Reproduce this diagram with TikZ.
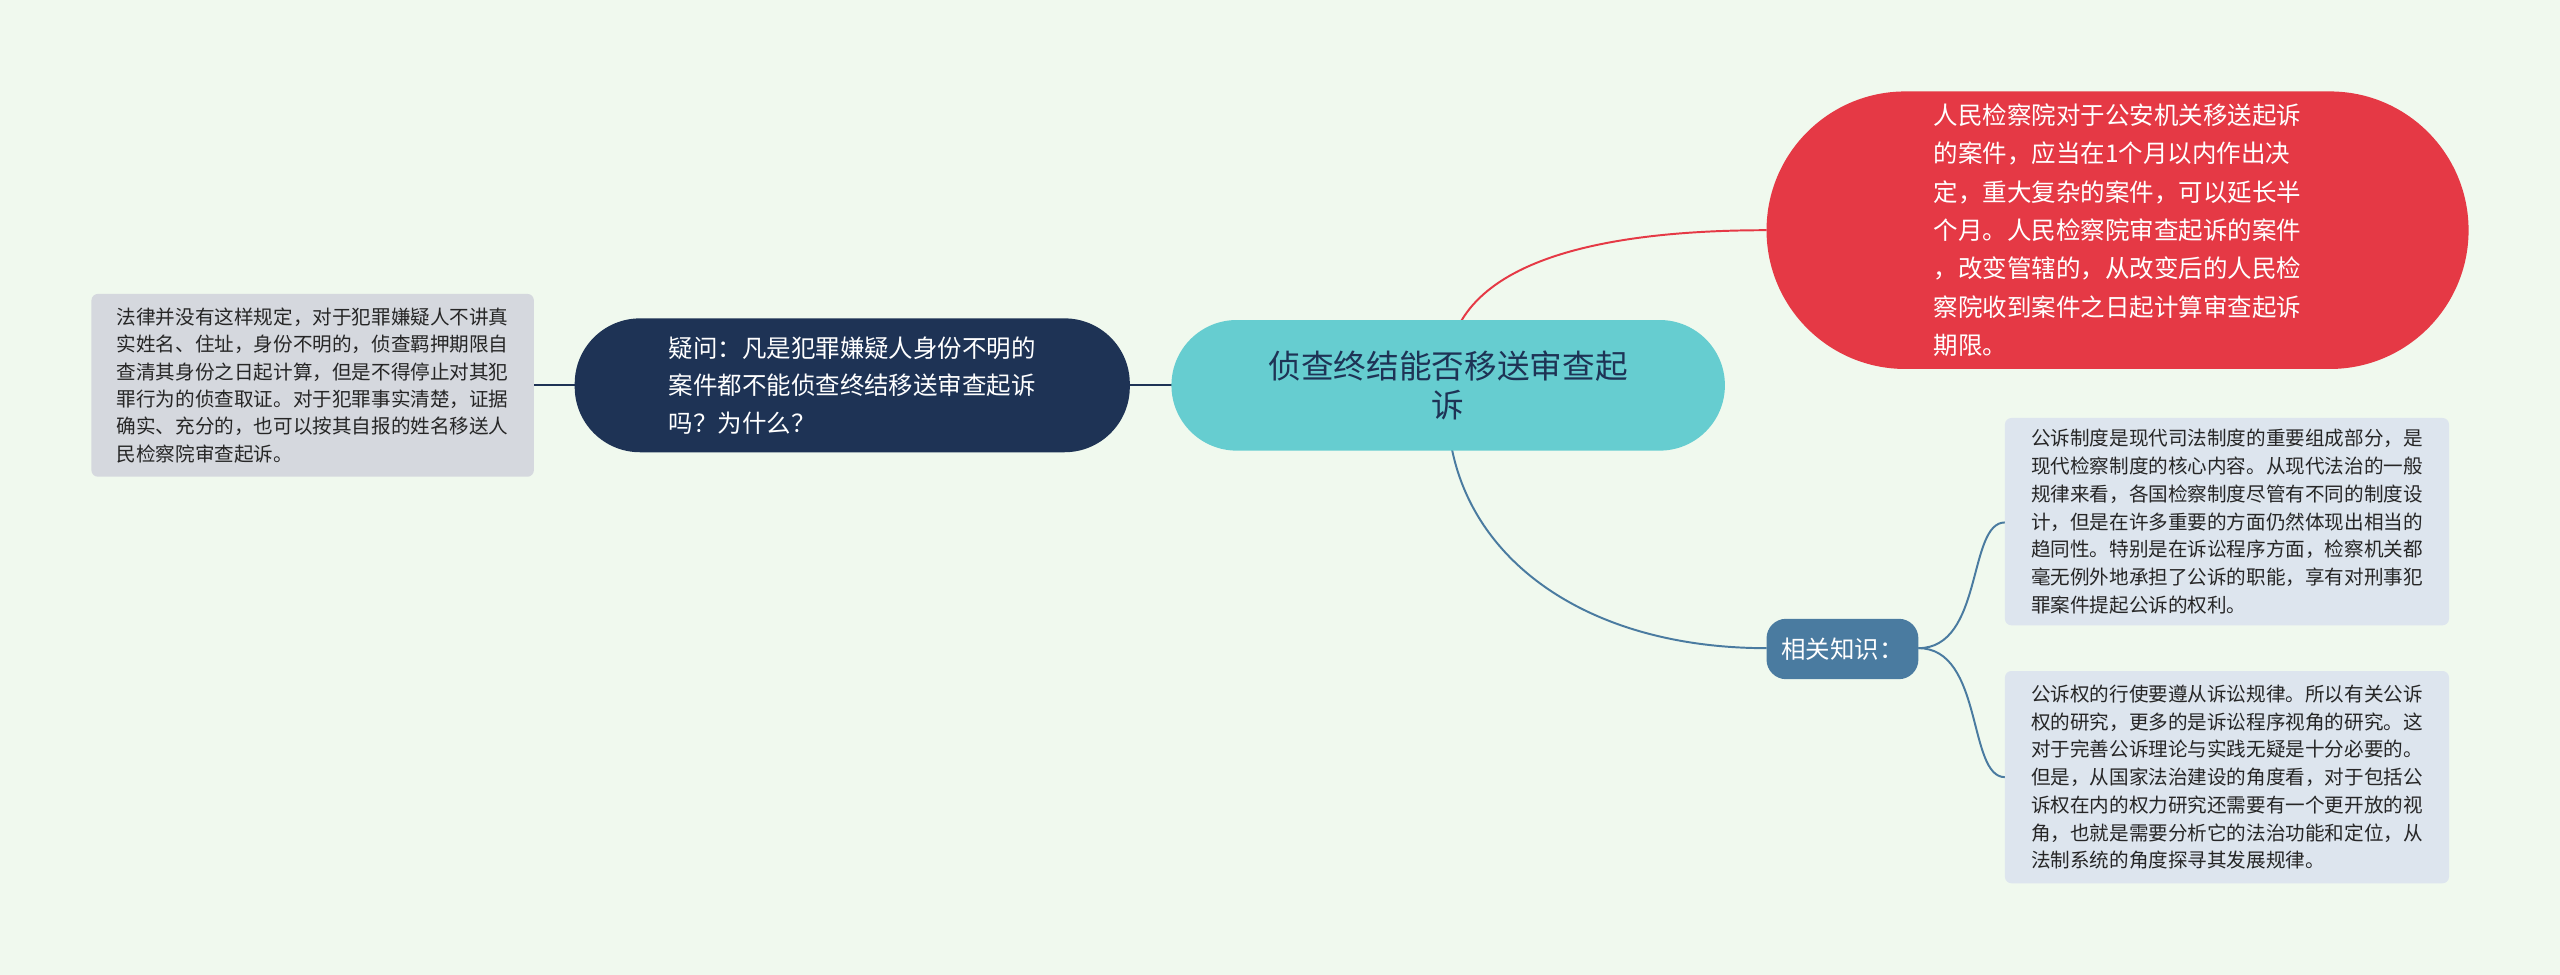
\documentclass[tikz,border=0pt]{standalone}
\usepackage{fontspec}
\setmainfont{Noto Sans CJK SC}
\begin{document}
\begin{tikzpicture}[x=1pt,y=-1pt,
  pill/.style={rounded corners=40pt,text=white,align=left},
  note/.style={rounded corners=4pt,fill=noteblue,text=black!85,align=left,font=\fontsize{12}{17}\selectfont},
  conn/.style={line width=1.2pt}]
\definecolor{bg}{HTML}{F0F9EE}
\definecolor{cyanc}{HTML}{66CDD0}
\definecolor{navy}{HTML}{1E3355}
\definecolor{redc}{HTML}{E53945}
\definecolor{steel}{HTML}{4A7BA0}
\definecolor{noteblue}{HTML}{DDE5EE}
\definecolor{grayc}{HTML}{D5D8DE}
\fill[bg] (0,0) rectangle (1568,597);
\useasboundingbox (0,0) rectangle (1568,597);
% connectors
\coordinate (hub) at (887,236);
\draw[conn,navy] (327,236) -- (352,236);
\draw[conn,navy] (692,236) -- (hub);
\draw[conn,redc] (hub) .. controls (880,160) and (980,141) .. (1082,141);
\draw[conn,steel] (hub) .. controls (880,330) and (960,397) .. (1082,397);
\draw[conn,steel] (1175,397) .. controls (1215,397) and (1205,320) .. (1228,320);
\draw[conn,steel] (1175,397) .. controls (1215,397) and (1205,476) .. (1228,476);
% nodes
\node[pill,fill=cyanc,minimum width=339pt,minimum height=80pt,text=navy,font=\fontsize{20}{24}\selectfont,align=center] (c) at (887,236) {侦查终结能否移送审查起\\诉};
\node[pill,fill=navy,minimum width=340pt,minimum height=82pt,font=\fontsize{15}{23}\selectfont] (q) at (522,236) {疑问：凡是犯罪嫌疑人身份不明的\\案件都不能侦查终结移送审查起诉\\吗？为什么？};
\node[rounded corners=4pt,fill=grayc,minimum width=271pt,minimum height=112pt,align=left,text=black!85,font=\fontsize{12}{16.8}\selectfont] (a) at (191.5,236) {法律并没有这样规定，对于犯罪嫌疑人不讲真\\实姓名、住址，身份不明的，侦查羁押期限自\\查清其身份之日起计算，但是不得停止对其犯\\罪行为的侦查取证。对于犯罪事实清楚，证据\\确实、充分的，也可以按其自报的姓名移送人\\民检察院审查起诉。};
\node[rounded corners=85pt,fill=redc,text=white,minimum width=430pt,minimum height=170pt,align=left,font=\fontsize{15}{23.5}\selectfont] (r) at (1297,141) {人民检察院对于公安机关移送起诉\\的案件，应当在1个月以内作出决\\定，重大复杂的案件，可以延长半\\个月。人民检察院审查起诉的案件\\，改变管辖的，从改变后的人民检\\察院收到案件之日起计算审查起诉\\期限。};
\node[rounded corners=12pt,fill=steel,text=white,minimum width=93pt,minimum height=37pt,font=\fontsize{15}{18}\selectfont] (k) at (1128.5,397.5) {相关知识：};
\node[note,minimum width=272pt,minimum height=127pt] (n1) at (1364,319.5) {公诉制度是现代司法制度的重要组成部分，是\\现代检察制度的核心内容。从现代法治的一般\\规律来看，各国检察制度尽管有不同的制度设\\计，但是在许多重要的方面仍然体现出相当的\\趋同性。特别是在诉讼程序方面，检察机关都\\毫无例外地承担了公诉的职能，享有对刑事犯\\罪案件提起公诉的权利。};
\node[note,minimum width=272pt,minimum height=130pt] (n2) at (1364,476) {公诉权的行使要遵从诉讼规律。所以有关公诉\\权的研究，更多的是诉讼程序视角的研究。这\\对于完善公诉理论与实践无疑是十分必要的。\\但是，从国家法治建设的角度看，对于包括公\\诉权在内的权力研究还需要有一个更开放的视\\角，也就是需要分析它的法治功能和定位，从\\法制系统的角度探寻其发展规律。};
\end{tikzpicture}
\end{document}
